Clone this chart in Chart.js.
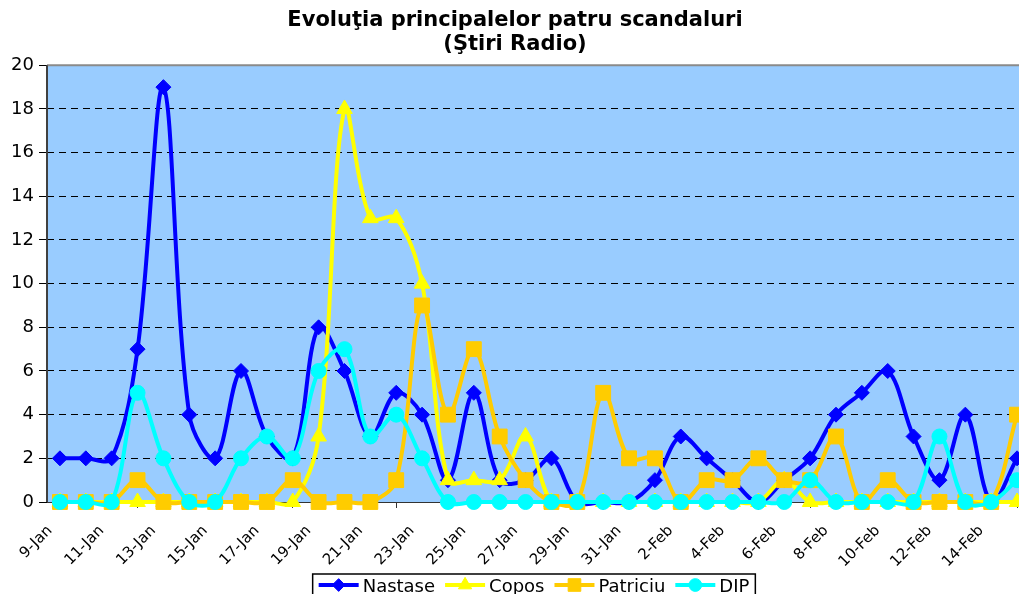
<!DOCTYPE html>
<html>
<head>
<meta charset="utf-8">
<script src="https://cdn.jsdelivr.net/npm/chart.js@4.4.1/dist/chart.umd.min.js"></script>
<style>
  body { margin: 0; background: #fff; overflow: hidden; }
  #wrap { width: 1019px; height: 594px; overflow: hidden; }
  canvas { display: block; }
</style>
</head>
<body>
<div id="wrap"><canvas id="chart" width="1060" height="594"></canvas></div>
<script>
const days = ['9-Jan', '10-Jan', '11-Jan', '12-Jan', '13-Jan', '14-Jan', '15-Jan', '16-Jan',
  '17-Jan', '18-Jan', '19-Jan', '20-Jan', '21-Jan', '22-Jan', '23-Jan', '24-Jan', '25-Jan',
  '26-Jan', '27-Jan', '28-Jan', '29-Jan', '30-Jan', '31-Jan', '1-Feb', '2-Feb', '3-Feb',
  '4-Feb', '5-Feb', '6-Feb', '7-Feb', '8-Feb', '9-Feb', '10-Feb', '11-Feb', '12-Feb',
  '13-Feb', '14-Feb', '15-Feb'];

const nastase = [2, 2, 2, 7, 19, 4, 2, 6, 3, 2, 8, 6, 3, 5, 4, 1, 5, 1, 1, 2, 0, 0, 0, 1, 3, 2, 1, 0, 1, 2, 4, 5, 6, 3, 1, 4, 0, 2];
const copos = [0, 0, 0, 0, 0, 0, 0, 0, 0, 0, 3, 18, 13, 13, 10, 1, 1, 1, 3, 0, 0, 0, 0, 0, 0, 0, 0, 0, 1, 0, 0, 0, 0, 0, 0, 0, 0, 0];
const patriciu = [0, 0, 0, 1, 0, 0, 0, 0, 0, 1, 0, 0, 0, 1, 9, 4, 7, 3, 1, 0, 0, 5, 2, 2, 0, 1, 1, 2, 1, 1, 3, 0, 1, 0, 0, 0, 0, 4];
const dip = [0, 0, 0, 5, 2, 0, 0, 2, 3, 2, 6, 7, 3, 4, 2, 0, 0, 0, 0, 0, 0, 0, 0, 0, 0, 0, 0, 0, 0, 1, 0, 0, 0, 0, 3, 0, 0, 1];

const yTicks = [0, 2, 4, 6, 8, 10, 12, 14, 16, 18, 20];

const FONT = '"DejaVu Sans", Verdana, sans-serif';

function series(label, data, color, style, radius, order) {
    return {
        label: label,
        data: data,
        borderColor: color,
        backgroundColor: color,
        borderWidth: 4,
        tension: 0.35,
        capBezierPoints: false,
        pointStyle: style,
        pointRadius: radius,
        pointHoverRadius: radius,
        pointBorderWidth: 1,
        clip: false,
        order: order
    };
}

// blue plot area, top border and y axis line
const plotFrame = {
    id: 'plotFrame',
    beforeDraw(chart) {
        const { ctx, chartArea: a } = chart;
        ctx.save();
        ctx.fillStyle = '#99CCFF';
        ctx.fillRect(a.left, a.top, a.right - a.left, a.bottom - a.top);
        ctx.restore();
    },
    beforeDatasetsDraw(chart) {
        const { ctx, chartArea: a } = chart;
        ctx.save();
        ctx.strokeStyle = '#8a8a8a';
        ctx.lineWidth = 2;
        ctx.beginPath();
        ctx.moveTo(a.left, a.top);
        ctx.lineTo(a.right + 40, a.top);
        ctx.stroke();
        ctx.strokeStyle = '#404040';
        ctx.beginPath();
        ctx.moveTo(a.left, a.top);
        ctx.lineTo(a.left, a.bottom);
        ctx.stroke();
        ctx.restore();
    }
};

// excel style legend: line with marker, boxed, under the chart
const legendBox = {
    id: 'legendBox',
    afterDraw(chart) {
        const ctx = chart.ctx;
        const sets = chart.data.datasets;
        const lineLen = 40, gap = 4, space = 10, pad = 6;
        ctx.save();
        ctx.font = '18px ' + FONT;
        let total = pad * 2;
        sets.forEach((ds, i) => {
            total += lineLen + gap + ctx.measureText(ds.label).width;
            if (i < sets.length - 1) total += space;
        });
        let x = chart.width / 2 + 4 - total / 2;
        const top = 574, y = 585;
        ctx.strokeStyle = '#000';
        ctx.lineWidth = 1.5;
        ctx.strokeRect(x, top, total, 40);
        x += pad;
        sets.forEach(ds => {
            ctx.strokeStyle = ds.borderColor;
            ctx.fillStyle = ds.borderColor;
            ctx.lineWidth = 4;
            ctx.beginPath();
            ctx.moveTo(x, y);
            ctx.lineTo(x + lineLen, y);
            ctx.stroke();
            ctx.lineWidth = 1;
            Chart.helpers.drawPoint(ctx, { pointStyle: ds.pointStyle, radius: ds.pointRadius * 0.85, borderWidth: 1, rotation: 0 }, x + lineLen / 2, y);
            x += lineLen + gap;
            ctx.fillStyle = '#000';
            ctx.textBaseline = 'middle';
            ctx.fillText(ds.label, x, y + 2);
            x += ctx.measureText(ds.label).width + space;
        });
        ctx.restore();
    }
};

const chart = new Chart(document.getElementById('chart'), {
    type: 'line',
    data: {
        labels: days,
        datasets: [
            series('Nastase', nastase, '#0000FF', 'rectRot', 7.5, 4),
            series('Copos', copos, '#FFFF00', 'triangle', 9, 3),
            series('Patriciu', patriciu, '#FFCC00', 'rect', 10.5, 2),
            series('DIP', dip, '#00FFFF', 'circle', 7.5, 1)
        ]
    },
    options: {
        responsive: false,
        animation: false,
        devicePixelRatio: 1,
        layout: { padding: { left: 0, right: 30, top: 0, bottom: 0 } },
        plugins: {
            legend: { display: false },
            tooltip: { enabled: false },
            title: {
                display: true,
                text: ['Evoluţia principalelor patru scandaluri', '(Ştiri Radio)'],
                color: '#000',
                font: { family: FONT, size: 21, weight: 'bold', lineHeight: 1.15 },
                padding: { top: 8, bottom: 9 }
            }
        },
        scales: {
            x: {
                offset: true,
                afterFit: s => { s.height = 92; },
                grid: { display: true, drawOnChartArea: false, offset: true, tickLength: 6, color: '#333' },
                border: { display: true, color: '#333', width: 1 },
                ticks: {
                    autoSkip: false,
                    maxRotation: 45,
                    minRotation: 45,
                    labelOffset: -10,
                    padding: 14,
                    color: '#000',
                    font: { family: FONT, size: 15 },
                    callback: (v, i) => (i % 2 ? null : days[i])
                }
            },
            y: {
                min: yTicks[0],
                max: yTicks[yTicks.length - 1],
                afterFit: s => { s.width = 47; },
                afterBuildTicks: s => { s.ticks = yTicks.map(v => ({ value: v })); },
                grid: {
                    color: c => (c.tick.value === 0 || c.tick.value === 20 ? 'rgba(0,0,0,0)' : '#000'),
                    tickColor: '#000',
                    tickLength: 8,
                    borderDash: [7, 5],
                    tickBorderDash: []
                },
                border: { display: false, dash: [7, 5] },
                ticks: {
                    padding: 5,
                    color: '#000',
                    font: { family: FONT, size: 18 }
                }
            }
        }
    },
    plugins: [plotFrame, legendBox]
});
</script>
</body>
</html>
